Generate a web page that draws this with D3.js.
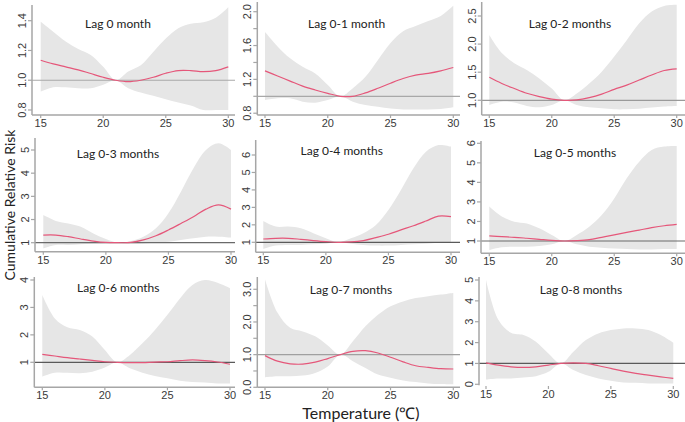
<!DOCTYPE html>
<html><head><meta charset="utf-8">
<script src="https://cdn.jsdelivr.net/npm/d3@7"></script>
<style>body{margin:0;background:#fff}svg{display:block}</style>
</head><body>
<svg id="c" width="685" height="422"></svg>
<script>
// ---------- data ----------
const temps = [15,16,17,18,19,20,21,22,23,24,25,26,27,28,29,30];
const xTicks = [15,20,25,30];
const titles = ["Lag 0 month","Lag 0-1 month","Lag 0-2 months","Lag 0-3 months","Lag 0-4 months","Lag 0-5 months","Lag 0-6 months","Lag 0-7 months","Lag 0-8 months"];

const rr0 = [1.134,1.11,1.09,1.07,1.045,1.02,1.0,0.99,1.0,1.02,1.047,1.065,1.065,1.058,1.065,1.09];
const lo0 = [0.924,0.953,0.953,0.946,0.946,0.97,1.0,0.946,0.917,0.895,0.873,0.85,0.83,0.80,0.80,0.80];
const hi0 = [1.393,1.326,1.26,1.21,1.17,1.09,1.0,1.058,1.10,1.19,1.28,1.35,1.38,1.39,1.42,1.49];

const rr1 = [1.30,1.24,1.18,1.12,1.075,1.035,1.0,1.0,1.04,1.095,1.155,1.21,1.25,1.27,1.30,1.34];
const lo1 = [0.956,0.976,0.976,0.937,0.925,0.956,1.0,0.937,0.897,0.877,0.857,0.845,0.845,0.845,0.85,0.87];
const hi1 = [1.76,1.59,1.45,1.35,1.27,1.135,1.0,1.095,1.23,1.43,1.63,1.77,1.83,1.89,1.95,2.07];

const rr2 = [1.41,1.30,1.21,1.125,1.065,1.02,1.0,1.006,1.047,1.11,1.195,1.27,1.36,1.45,1.53,1.56];
const lo2 = [0.917,0.976,0.96,0.90,0.876,0.917,1.0,0.917,0.876,0.86,0.84,0.84,0.85,0.87,0.89,0.90];
const hi2 = [2.16,1.84,1.66,1.54,1.39,1.21,1.0,1.12,1.30,1.51,1.78,2.07,2.37,2.58,2.68,2.70];

const rr3 = [1.33,1.33,1.26,1.16,1.07,1.01,1.0,1.01,1.12,1.30,1.55,1.83,2.12,2.45,2.63,2.45];
const lo3 = [0.755,0.90,0.90,0.93,0.957,0.97,1.0,0.957,0.97,1.01,1.04,1.12,1.19,1.26,1.26,1.22];
const hi3 = [2.19,1.94,1.83,1.69,1.40,1.16,1.0,1.07,1.26,1.62,2.27,3.20,4.21,5.0,5.29,5.0];

const rr4 = [1.19,1.23,1.23,1.17,1.10,1.04,1.0,1.02,1.10,1.27,1.46,1.71,1.95,2.22,2.50,2.47];
const lo4 = [0.62,0.81,0.85,0.85,0.885,0.92,1.0,0.92,0.85,0.81,0.81,0.85,0.885,0.92,0.98,1.0];
const hi4 = [2.22,1.90,1.90,1.80,1.52,1.23,1.0,1.23,1.52,1.99,2.85,4.0,5.24,6.19,6.57,6.48];

const rr5 = [1.26,1.22,1.19,1.14,1.085,1.03,1.0,1.02,1.07,1.19,1.31,1.44,1.56,1.68,1.78,1.85];
const lo5 = [0.54,0.68,0.71,0.71,0.74,0.83,1.0,0.83,0.71,0.66,0.62,0.59,0.57,0.57,0.59,0.59];
const hi5 = [2.76,2.25,1.99,1.90,1.65,1.31,1.0,1.31,1.73,2.33,3.18,4.21,5.06,5.66,5.83,5.86];

const rr6 = [1.29,1.23,1.17,1.12,1.07,1.02,1.0,0.99,0.99,1.01,1.02,1.06,1.085,1.06,1.01,0.93];
const lo6 = [0.48,0.62,0.62,0.60,0.66,0.81,1.0,0.78,0.62,0.50,0.42,0.33,0.28,0.26,0.23,0.23];
const hi6 = [3.45,2.60,2.28,2.18,1.94,1.45,1.0,1.27,1.69,2.18,2.73,3.33,3.82,4.0,3.9,3.70];

const rr7 = [0.97,0.80,0.72,0.71,0.77,0.88,1.0,1.10,1.12,1.05,0.92,0.78,0.66,0.61,0.57,0.56];
const lo7 = [0.31,0.34,0.34,0.36,0.44,0.64,1.0,0.80,0.59,0.39,0.29,0.21,0.16,0.12,0.10,0.09];
const hi7 = [3.30,2.28,1.82,1.71,1.56,1.28,1.0,1.41,1.87,2.22,2.48,2.63,2.73,2.79,2.84,2.89];

const rr8 = [1.03,0.92,0.84,0.81,0.84,0.92,1.0,1.03,1.0,0.89,0.76,0.63,0.52,0.44,0.36,0.28];
const lo8 = [0.23,0.28,0.28,0.33,0.39,0.60,1.0,0.68,0.44,0.28,0.17,0.09,0.07,0.04,0.04,0.04];
const hi8 = [5.0,3.08,2.47,2.36,2.04,1.48,1.0,1.56,2.12,2.44,2.60,2.68,2.68,2.60,2.36,1.99];

const yTicks0 = [0.8,1.0,1.2,1.4],            yLab0 = [0.8,1.0,1.2,1.4];
const yTicks1 = [0.8,1.0,1.2,1.4,1.6,1.8,2.0], yLab1 = [0.8,1.2,1.6,2.0];
const yTicks2 = [1.0,1.5,2.0,2.5],            yLab2 = [1.0,1.5,2.0,2.5];
const yTicks3 = [1,2,3,4,5],                  yLab3 = [1,2,3,4,5];
const yTicks4 = [1,2,3,4,5,6],                yLab4 = [1,2,3,4,5,6];
const yTicks5 = [1,2,3,4,5,6],                yLab5 = [1,2,3,4,5,6];
const yTicks6 = [1,2,3,4],                    yLab6 = [1,2,3,4];
const yTicks7 = [0,0.5,1,1.5,2,2.5,3],        yLab7 = [0,1,2,3];
const yTicks8 = [0,1,2,3,4,5],                yLab8 = [0,1,2,3,4,5];

const series = [
  {rr:rr0,lo:lo0,hi:hi0,ticks:yTicks0,labs:yLab0,fmt:".1f"},
  {rr:rr1,lo:lo1,hi:hi1,ticks:yTicks1,labs:yLab1,fmt:".1f"},
  {rr:rr2,lo:lo2,hi:hi2,ticks:yTicks2,labs:yLab2,fmt:".1f"},
  {rr:rr3,lo:lo3,hi:hi3,ticks:yTicks3,labs:yLab3,fmt:"d"},
  {rr:rr4,lo:lo4,hi:hi4,ticks:yTicks4,labs:yLab4,fmt:"d"},
  {rr:rr5,lo:lo5,hi:hi5,ticks:yTicks5,labs:yLab5,fmt:"d"},
  {rr:rr6,lo:lo6,hi:hi6,ticks:yTicks6,labs:yLab6,fmt:"d"},
  {rr:rr7,lo:lo7,hi:hi7,ticks:yTicks7,labs:yLab7,fmt:".1f"},
  {rr:rr8,lo:lo8,hi:hi8,ticks:yTicks8,labs:yLab8,fmt:"d"}
];

// ---------- layout (pixel geometry) ----------
const layout = [
  {ax:32,   x15:40.7,  x30:228.3, xy:115,   yTop:5,   yd:[0.8,1.4], yr:[110,20.7],   right:235, tx:118,   ty:24,    ref:"#a8a8a8", xLine:true},
  {ax:257.3,x15:265,   x30:453.3, xy:115,   yTop:2,   yd:[1.0,2.0], yr:[96.3,11.7],  right:460, tx:346.7, ty:24,    ref:"#a8a8a8", xLine:true},
  {ax:481.7,x15:489.3, x30:676.7, xy:115,   yTop:2,   yd:[1.0,2.5], yr:[100.3,16],   right:685, tx:570,   ty:24,    ref:"#9a9a9a", xLine:true},
  {ax:35,   x15:43.3,  x30:231,   xy:251.7, yTop:138, yd:[1,5],     yr:[242.7,150],  right:235, tx:118,   ty:153.3, ref:"#6a6a6a", xLine:true},
  {ax:255.7,x15:263.3, x30:451,   xy:252.3, yTop:140, yd:[1,6],     yr:[242.3,155],  right:460, tx:341.7, ty:151,   ref:"#5a5a5a", xLine:true},
  {ax:481,  x15:489.3, x30:676.7, xy:253.3, yTop:141, yd:[1,6],     yr:[241,143.3],  right:685, tx:575,   ty:152.3, ref:"#6a6a6a", xLine:true},
  {ax:34.3, x15:42.3,  x30:230,   xy:387.3, yTop:277, yd:[1,4],     yr:[362.3,280],  right:235, tx:118.3, ty:287.3, ref:"#5a5a5a", xLine:true},
  {ax:257.3,x15:265,   x30:453.3, xy:387.3, yTop:277, yd:[0,3],     yr:[387.3,289.3],right:460, tx:351,   ty:290,   ref:"#a0a0a0", xLine:true},
  {ax:479,  x15:486,   x30:673.3, xy:386,   yTop:277, yd:[0,5],     yr:[384.3,280],  right:685, tx:581,   ty:290,   ref:"#5a5a5a", xLine:false}
];

const svg = d3.select("#c");
const axisCol = "#a6a6a6", labCol = "#3a3a3a";

series.forEach((s, i) => {
  const L = layout[i];
  const x = d3.scaleLinear().domain([15,30]).range([L.x15, L.x30]);
  const y = d3.scaleLinear().domain(L.yd).range(L.yr);
  const g = svg.append("g");
  const pts = temps.map((t, k) => ({t, rr:s.rr[k], lo:s.lo[k], hi:s.hi[k]}));
  const curve = d3.curveCatmullRom.alpha(0.5);

  g.append("path").datum(pts)
    .attr("d", d3.area().x(d => x(d.t)).y0(d => y(d.lo)).y1(d => y(d.hi)).curve(curve))
    .attr("fill", "#e6e6e6");

  g.append("line").attr("x1", L.ax).attr("x2", L.right).attr("y1", y(1)).attr("y2", y(1))
    .attr("stroke", L.ref).attr("stroke-width", 1.2);

  g.append("path").datum(pts)
    .attr("d", d3.line().x(d => x(d.t)).y(d => y(d.rr)).curve(curve))
    .attr("fill", "none").attr("stroke", "#e5577a").attr("stroke-width", 1.2);

  // y axis
  const yBot = L.xLine ? L.xy : y(L.yd[0]) + 1;
  g.append("line").attr("x1", L.ax).attr("x2", L.ax).attr("y1", L.yTop).attr("y2", yBot)
    .attr("stroke", axisCol).attr("stroke-width", 1.5);
  const f = d3.format(s.fmt);
  g.selectAll(".yt").data(s.ticks).join("line")
    .attr("x1", L.ax - 4).attr("x2", L.ax).attr("y1", d => y(d)).attr("y2", d => y(d))
    .attr("stroke", axisCol).attr("stroke-width", 1.2);
  g.selectAll(".yl").data(s.labs).join("text")
    .attr("transform", d => `translate(${L.ax - 10},${y(d)}) rotate(-90)`)
    .attr("text-anchor", "middle").attr("dy", "0.36em")
    .attr("font-family", "Liberation Sans, Arial, sans-serif").attr("font-size", 11)
    .attr("fill", labCol).text(d => f(d));

  // x axis
  if (L.xLine) {
    g.append("line").attr("x1", L.ax).attr("x2", L.right).attr("y1", L.xy).attr("y2", L.xy)
      .attr("stroke", axisCol).attr("stroke-width", 1.5);
  }
  g.selectAll(".xt").data(xTicks).join("line")
    .attr("x1", d => x(d)).attr("x2", d => x(d)).attr("y1", L.xy).attr("y2", L.xy + 3)
    .attr("stroke", axisCol).attr("stroke-width", 1.2);
  g.selectAll(".xl").data(xTicks).join("text")
    .attr("x", d => x(d)).attr("y", L.xy + 12).attr("text-anchor", "middle")
    .attr("font-family", "Liberation Sans, Arial, sans-serif").attr("font-size", 11)
    .attr("fill", labCol).text(d => d);

  g.append("text").attr("x", L.tx).attr("y", L.ty).attr("dy", "0.35em")
    .attr("text-anchor", "middle").attr("font-family", "Lato, Open Sans, sans-serif")
    .attr("font-size", 12).attr("fill", "#222").text(titles[i]);
});

svg.append("text").attr("transform", "translate(10,205) rotate(-90)")
  .attr("text-anchor", "middle").attr("dy", "0.35em")
  .attr("font-family", "Lato, Open Sans, sans-serif").attr("font-size", 14)
  .attr("fill", "#222").text("Cumulative Relative Risk");

svg.append("text").attr("x", 361).attr("y", 413).attr("dy", "0.35em")
  .attr("text-anchor", "middle").attr("font-family", "Lato, Open Sans, sans-serif")
  .attr("font-size", 16).attr("fill", "#222").text("Temperature (℃)");
</script>
</body></html>
